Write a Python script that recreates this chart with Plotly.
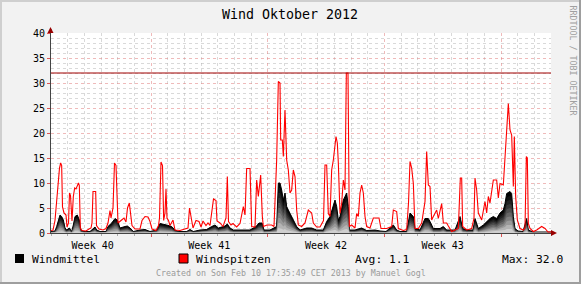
import plotly.graph_objects as go
import pandas as pd

# ---------------- data (day of October 2012 with fraction, km/h) ----------------
spitzen_tag = [2.00,2.12,2.24,2.36,2.51,2.58,2.64,2.69,2.78,2.90,
 2.96,3.05,3.11,3.17,3.21,3.26,3.34,3.42,3.50,3.58,
 3.65,3.70,3.76,3.86,4.10,4.28,4.40,4.46,4.52,4.68,
 4.73,4.88,5.12,5.30,5.42,5.54,5.60,5.72,5.81,5.90,
 5.96,6.02,6.20,6.38,6.50,6.59,6.70,6.77,6.86,7.04,
 7.34,7.46,7.64,7.82,7.94,8.06,8.30,8.45,8.51,8.60,
 8.69,8.76,8.84,8.90,8.96,9.05,9.14,9.32,9.44,9.74,
 10.04,10.22,10.31,10.40,10.52,10.70,10.88,11.00,11.12,11.30,
 11.42,11.54,11.66,11.75,11.90,11.96,12.14,12.32,12.50,12.58,
 12.65,12.80,12.92,13.14,13.34,13.54,13.64,13.74,13.94,14.04,
 14.24,14.34,14.44,14.58,14.68,14.74,14.96,15.24,15.38,15.54,
 15.64,15.74,15.78,15.88,15.94,16.04,16.14,16.24,16.34,16.44,
 16.54,16.64,16.74,16.84,17.04,17.24,17.44,17.64,17.74,17.94,
 18.14,18.35,18.44,18.54,18.64,18.74,18.84,18.94,19.10,19.18,
 19.24,19.34,19.44,19.54,19.64,19.72,19.82,19.90,20.04,20.24,
 20.34,20.44,20.54,20.64,20.74,20.84,20.94,21.14,21.34,21.68,
 21.80,22.14,22.44,22.54,22.74,22.84,23.14,23.34,23.45,23.54,
 23.64,23.74,23.84,24.04,24.24,24.44,24.54,24.64,24.74,24.84,
 24.94,25.14,25.24,25.44,25.54,25.74,25.84,26.04,26.24,26.44,
 26.56,26.64,26.70,26.94,27.24,27.38,27.44,27.54,27.64,27.84,
 28.04,28.14,28.24,28.34,28.54,28.74,28.84,28.94,29.14,29.24,
 29.34,29.44,29.54,29.64,29.74,29.80,29.88,29.98,30.14,30.34,
 30.44,30.52,30.58,30.64,30.74,30.94,31.14,31.44,31.64,31.82,
 32.00]
spitzen_kmh = [0.5,0.6,2.5,7.2,13.0,14.0,13.5,5.2,4.0,3.6,
 1.2,2.0,8.0,7.5,4.0,2.4,7.3,9.0,8.8,9.6,
 10.0,9.5,1.0,0.5,0.4,0.8,1.0,2.0,8.3,8.3,
 1.5,0.8,0.6,0.9,2.0,4.5,3.0,5.0,14.0,13.5,
 5.0,2.0,2.5,3.0,2.2,5.0,6.0,4.0,1.5,0.8,
 0.8,2.5,3.3,3.2,2.3,0.8,0.5,1.5,3.0,14.2,
 13.5,2.5,4.0,8.8,3.0,2.5,1.5,2.6,0.6,0.5,
 0.8,1.0,5.0,3.0,1.0,2.5,2.3,1.2,2.4,1.5,
 2.0,1.5,5.0,6.8,6.5,2.4,2.0,1.3,3.0,11.3,
 2.3,1.6,1.9,1.2,1.9,5.3,3.6,12.9,12.9,1.3,
 1.2,10.6,7.3,11.6,3.3,1.3,1.6,1.6,1.3,14.6,
 30.3,30.0,18.6,18.6,15.3,24.6,14.6,12.6,8.0,8.6,
 12.6,11.3,4.6,1.6,1.3,2.0,4.6,4.0,2.0,1.2,
 1.2,2.5,13.6,13.6,3.9,3.3,12.6,14.6,19.3,18.0,
 14.0,3.9,5.9,10.6,8.6,32.0,32.0,1.3,1.6,1.0,
 3.9,3.3,8.0,9.6,8.0,3.3,1.3,1.0,3.0,3.0,
 0.9,0.9,1.3,4.6,4.3,0.9,0.5,0.7,6.0,14.3,
 13.0,9.9,0.9,0.9,2.0,6.3,16.3,9.6,9.3,2.6,
 3.3,4.6,2.9,5.9,2.0,2.0,1.4,0.3,0.6,0.9,
 11.0,11.0,1.3,0.6,0.9,3.0,11.0,8.6,4.0,2.6,
 6.3,4.0,7.3,6.0,10.6,10.6,7.0,9.9,9.6,14.9,
 20.6,25.9,20.6,19.6,9.3,19.3,7.3,2.6,0.9,0.6,
 1.0,15.3,15.0,1.9,0.9,0.3,0.6,1.3,0.9,0.2,
 0.2]

mittel_tag = [2.00,2.24,2.34,2.44,2.54,2.64,2.74,2.84,2.94,3.10,
 3.24,3.34,3.44,3.58,3.70,3.78,3.98,4.34,4.54,4.64,
 4.74,4.94,5.30,5.42,5.64,5.84,5.98,6.14,6.44,6.58,
 6.74,6.94,7.34,7.64,7.94,8.34,8.54,8.74,8.94,9.24,
 9.44,9.64,10.14,10.34,10.54,10.94,11.34,11.64,11.84,12.04,
 12.44,12.58,12.74,12.94,13.94,14.30,14.48,14.66,14.78,15.14,
 15.34,15.54,15.64,15.74,15.84,15.94,16.04,16.14,16.24,16.34,
 16.44,16.54,16.74,16.94,17.34,17.64,17.94,18.34,18.54,18.74,
 18.94,19.04,19.14,19.24,19.34,19.54,19.64,19.74,19.84,19.90,
 20.24,20.64,20.94,21.44,21.74,22.10,22.54,22.74,22.94,23.34,
 23.54,23.74,23.84,24.14,24.44,24.64,24.74,24.94,25.34,25.54,
 25.74,26.24,26.54,26.70,26.96,27.32,27.44,27.64,27.94,28.14,
 28.34,28.54,28.74,28.94,29.14,29.24,29.34,29.54,29.64,29.74,
 29.84,30.02,30.32,30.54,30.64,30.92,31.34,32.00]
mittel_kmh = [0.3,0.4,1.3,2.6,3.6,3.3,2.6,1.0,0.6,1.0,
 0.3,1.6,3.3,3.6,2.6,0.6,0.3,0.3,1.0,1.2,
 0.6,0.3,0.3,1.3,2.0,2.9,2.6,1.0,1.3,1.4,
 1.0,0.3,0.6,0.7,0.3,0.6,1.9,1.8,1.6,1.3,
 0.6,0.3,0.3,0.7,0.3,0.6,0.7,1.3,1.6,1.0,
 1.4,1.8,1.0,0.6,0.6,1.3,2.0,2.0,0.6,0.6,
 1.0,1.3,10.0,10.0,8.6,6.6,8.0,5.3,4.6,4.0,
 3.3,2.6,1.3,0.6,1.0,1.0,0.6,0.6,2.3,3.3,
 5.3,6.6,5.3,2.6,3.3,6.6,7.3,8.0,5.3,0.6,
 0.6,1.0,0.5,0.6,0.4,0.3,1.6,0.6,0.3,0.3,
 4.0,3.3,0.9,0.6,2.9,2.9,2.3,0.9,0.9,1.3,
 0.6,0.6,3.3,0.9,0.6,0.6,2.9,0.9,1.6,2.3,
 2.9,3.3,2.9,4.0,4.6,5.9,7.9,8.3,7.9,3.3,
 0.9,0.4,0.3,2.9,0.6,0.2,0.2,0.2]

assert len(spitzen_tag) == len(spitzen_kmh)
assert len(mittel_tag) == len(mittel_kmh)

title_text = "Wind Oktober 2012"
legend_names = ["Windmittel", "Windspitzen"]
avg_text = "Avg: 1.1"
max_text = "Max: 32.0"
footer_text = "Created on Son Feb 10 17:35:49 CET 2013 by Manuel Gogl"
side_text = "RRDTOOL / TOBI OETIKER"

# ---------------- helpers ----------------
BASE = pd.Timestamp("2012-10-01")


def to_time(days):
    return [BASE + pd.Timedelta(days=d - 1) for d in days]


W, H = 581, 284
L, R, T, B = 51, 30, 33, 51
PW, PH = W - L - R, H - T - B


def px(x):
    return (x - L) / PW


def py(y):
    return (H - B - y) / PH


FONT = "DejaVu Sans Mono"

t_spitzen = to_time(spitzen_tag)
t_mittel = to_time(mittel_tag)

fig = go.Figure()

# Windmittel: black area with vertical gradient to white
N = 10
for k in range(N):
    f = 1 - k / N
    g = int(round(235 * (k / N) ** 1.2))
    fig.add_trace(go.Scatter(
        x=t_mittel, y=[v * f for v in mittel_kmh],
        mode="lines", fill="tozeroy",
        fillcolor=f"rgb({g},{g},{g})",
        line=dict(width=1 if k == 0 else 0, color="black"),
        hoverinfo="skip", showlegend=False))

# Windspitzen: red line
fig.add_trace(go.Scatter(
    x=t_spitzen, y=spitzen_kmh, mode="lines",
    line=dict(color="#ff0000", width=1.1),
    name=legend_names[1], showlegend=False))

maxval = max(spitzen_kmh)

shapes = []
# max hrule
shapes.append(dict(type="line", xref="paper", yref="y", x0=0, x1=1,
                   y0=maxval, y1=maxval, line=dict(color="#a00000", width=1),
                   layer="above"))
# axis extension + arrows
shapes.append(dict(type="line", xref="paper", yref="paper", x0=1, x1=px(555),
                   y0=0, y1=0, line=dict(color="#444444", width=1)))
shapes.append(dict(type="path", xref="paper", yref="paper",
                   path=f"M {px(551)} {py(230)} L {px(557)} {py(233)} L {px(551)} {py(236)} Z",
                   fillcolor="#990000", line=dict(width=0)))
shapes.append(dict(type="line", xref="paper", yref="paper", x0=0, x1=0,
                   y0=1, y1=py(29), line=dict(color="#444444", width=1)))
shapes.append(dict(type="path", xref="paper", yref="paper",
                   path=f"M {px(47.5)} {py(33)} L {px(50.5)} {py(27)} L {px(53.5)} {py(33)} Z",
                   fillcolor="#990000", line=dict(width=0)))
# legend squares
shapes.append(dict(type="rect", xref="paper", yref="paper",
                   x0=px(15), x1=px(24), y0=py(254), y1=py(263),
                   fillcolor="#000000", line=dict(width=0)))
shapes.append(dict(type="rect", xref="paper", yref="paper",
                   x0=px(179), x1=px(188), y0=py(254), y1=py(263),
                   fillcolor="#ff0000", line=dict(color="#000000", width=1)))
# frame (3d shading)
shapes.append(dict(type="rect", xref="paper", yref="paper",
                   x0=px(0), x1=px(2), y0=py(0), y1=py(H), fillcolor="#cfcfcf", line=dict(width=0)))
shapes.append(dict(type="rect", xref="paper", yref="paper",
                   x0=px(0), x1=px(W), y0=py(0), y1=py(2), fillcolor="#cfcfcf", line=dict(width=0)))
shapes.append(dict(type="rect", xref="paper", yref="paper",
                   x0=px(W - 2), x1=px(W), y0=py(0), y1=py(H), fillcolor="#9e9e9e", line=dict(width=0)))
shapes.append(dict(type="rect", xref="paper", yref="paper",
                   x0=px(0), x1=px(W), y0=py(H - 2), y1=py(H), fillcolor="#9e9e9e", line=dict(width=0)))

ann = []
ann.append(dict(text=title_text, x=px(290), y=py(14), xref="paper", yref="paper",
                xanchor="center", yanchor="middle", showarrow=False,
                font=dict(family=FONT, size=13.3, color="#000000")))
ann.append(dict(text=legend_names[0], x=px(30), y=py(259), xref="paper", yref="paper",
                xanchor="left", yanchor="middle", showarrow=False,
                font=dict(family=FONT, size=11.3, color="#000000")))
ann.append(dict(text=legend_names[1], x=px(194), y=py(259), xref="paper", yref="paper",
                xanchor="left", yanchor="middle", showarrow=False,
                font=dict(family=FONT, size=11.3, color="#000000")))
ann.append(dict(text=avg_text, x=px(353), y=py(259), xref="paper", yref="paper",
                xanchor="left", yanchor="middle", showarrow=False,
                font=dict(family=FONT, size=11.3, color="#000000")))
ann.append(dict(text=max_text, x=px(565), y=py(259), xref="paper", yref="paper",
                xanchor="right", yanchor="middle", showarrow=False,
                font=dict(family=FONT, size=11.3, color="#000000")))
ann.append(dict(text=footer_text, x=px(290.5), y=py(273), xref="paper", yref="paper",
                xanchor="center", yanchor="middle", showarrow=False,
                font=dict(family=FONT, size=8.3, color="#9a9a9a")))
ann.append(dict(text=side_text, x=px(572.5), y=py(60), xref="paper", yref="paper",
                xanchor="center", yanchor="middle", showarrow=False, textangle=90,
                font=dict(family=FONT, size=8.3, color="#a0a0a0")))

DAY = 86400000
MAJOR = "rgba(225,130,130,0.55)"
MINOR = "rgba(170,170,170,0.45)"
fig.update_layout(
    width=W, height=H, autosize=False,
    margin=dict(l=L, r=R, t=T, b=B, pad=0),
    paper_bgcolor="#f2f2f2", plot_bgcolor="#ffffff",
    font=dict(family=FONT, size=10, color="#000000"),
    showlegend=False,
    shapes=shapes, annotations=ann,
    xaxis=dict(
        type="date", range=["2012-10-02", "2012-11-01"],
        tick0="2012-10-01", dtick=7 * DAY, ticklabelmode="period",
        tickformat="Week %V", showgrid=True, gridcolor=MAJOR,
        griddash="dot", gridwidth=1, ticks="outside", ticklen=3,
        tickcolor="#dd5555", showline=True, linecolor="#444444", linewidth=1,
        zeroline=False, tickfont=dict(family=FONT, size=10),
        minor=dict(dtick=DAY, tick0="2012-10-01", showgrid=True,
                   gridcolor=MINOR, griddash="dot",
                   ticks="outside", ticklen=2, tickcolor="#aaaaaa"),
        fixedrange=True),
    yaxis=dict(
        range=[0, 40], dtick=5, tick0=0, showgrid=True,
        gridcolor=MAJOR, griddash="dot",
        ticks="outside", ticklen=3, tickcolor="#dd5555",
        showline=True, linecolor="#444444", linewidth=1, zeroline=False,
        tickfont=dict(family=FONT, size=10),
        minor=dict(dtick=1, showgrid=True, gridcolor=MINOR,
                   griddash="dot"),
        fixedrange=True),
)

fig.write_html("out.html")
